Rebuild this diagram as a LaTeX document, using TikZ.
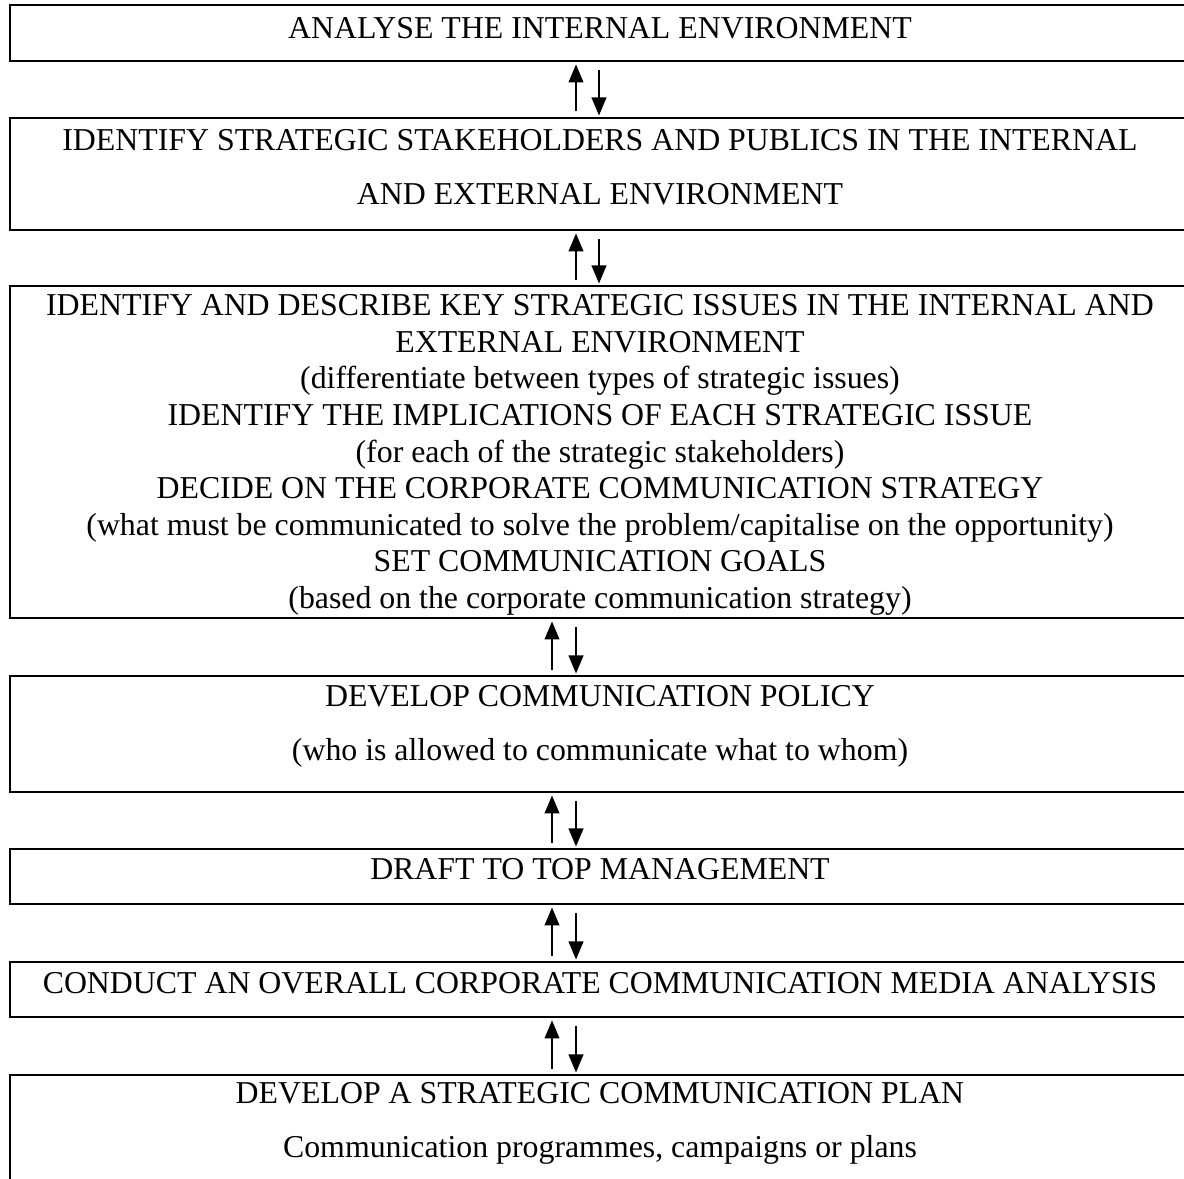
\documentclass[tikz,border=0pt]{standalone}
\usepackage{fontspec}
\setmainfont{Liberation Serif}
\usetikzlibrary{fit,arrows.meta}
\begin{document}
\begin{tikzpicture}[x=0.377pt,y=-0.377pt,
  box/.style={draw,line width=1.1pt,inner sep=0pt},
  txt/.style={align=center,inner sep=0pt,font=\fontsize{12pt}{13.8pt}\selectfont},
  wide/.style={font=\fontsize{12pt}{20.36pt}\selectfont},
  arr/.style={line width=0.55pt,-{Triangle[width=5.6pt,length=6.8pt]}}]
\useasboundingbox (0,0) rectangle (1184,1179);
\clip (0,0) rectangle (1184,1179);
\node[box,fit={(10,5)(1195,61)}] (b1) {};
\node[box,fit={(10,118)(1195,230)}] (b2) {};
\node[box,fit={(10,286)(1195,618)}] (b3) {};
\node[box,fit={(10,676)(1195,792)}] (b4) {};
\node[box,fit={(10,849)(1195,904)}] (b5) {};
\node[box,fit={(10,962)(1195,1017)}] (b6) {};
\node[box,fit={(10,1075)(1195,1250)}] (b7) {};
\node[txt] (t1) at (600,28) {ANALYSE THE INTERNAL ENVIRONMENT};
\node[txt,wide] (t2) at (600,167) {IDENTIFY STRATEGIC STAKEHOLDERS AND PUBLICS IN THE INTERNAL\\AND EXTERNAL ENVIRONMENT};
\node[txt] (t3) at (600,455) {IDENTIFY AND DESCRIBE KEY STRATEGIC ISSUES IN THE INTERNAL AND\\EXTERNAL ENVIRONMENT\\(differentiate between types of strategic issues)\\IDENTIFY THE IMPLICATIONS OF EACH STRATEGIC ISSUE\\(for each of the strategic stakeholders)\\DECIDE ON THE CORPORATE COMMUNICATION STRATEGY\\(what must be communicated to solve the problem/capitalise on the opportunity)\\SET COMMUNICATION GOALS\\(based on the corporate communication strategy)};
\node[txt,wide] (t4) at (600,726) {DEVELOP COMMUNICATION POLICY\\(who is allowed to communicate what to whom)};
\node[txt] (t5) at (600,869) {DRAFT TO TOP MANAGEMENT};
\node[txt] (t6) at (600,983) {CONDUCT AN OVERALL CORPORATE COMMUNICATION MEDIA ANALYSIS};
\node[txt,wide] (t7) at (600,1123) {DEVELOP A STRATEGIC COMMUNICATION PLAN\\Communication programmes, campaigns or plans};
% arrows
\foreach \u/\l/\xa/\xb in {b1/b2/576/599, b2/b3/576/599, b3/b4/552/576, b4/b5/552/576, b5/b6/552/576, b6/b7/552/576}{
  \draw[arr,shorten <=1.9pt,shorten >=0.75pt] (\xa,0 |- \l.north) -- (\xa,0 |- \u.south);
  \draw[arr,shorten <=3pt,shorten >=0.4pt] (\xb,0 |- \u.south) -- (\xb,0 |- \l.north);
}
\end{tikzpicture}
\end{document}
